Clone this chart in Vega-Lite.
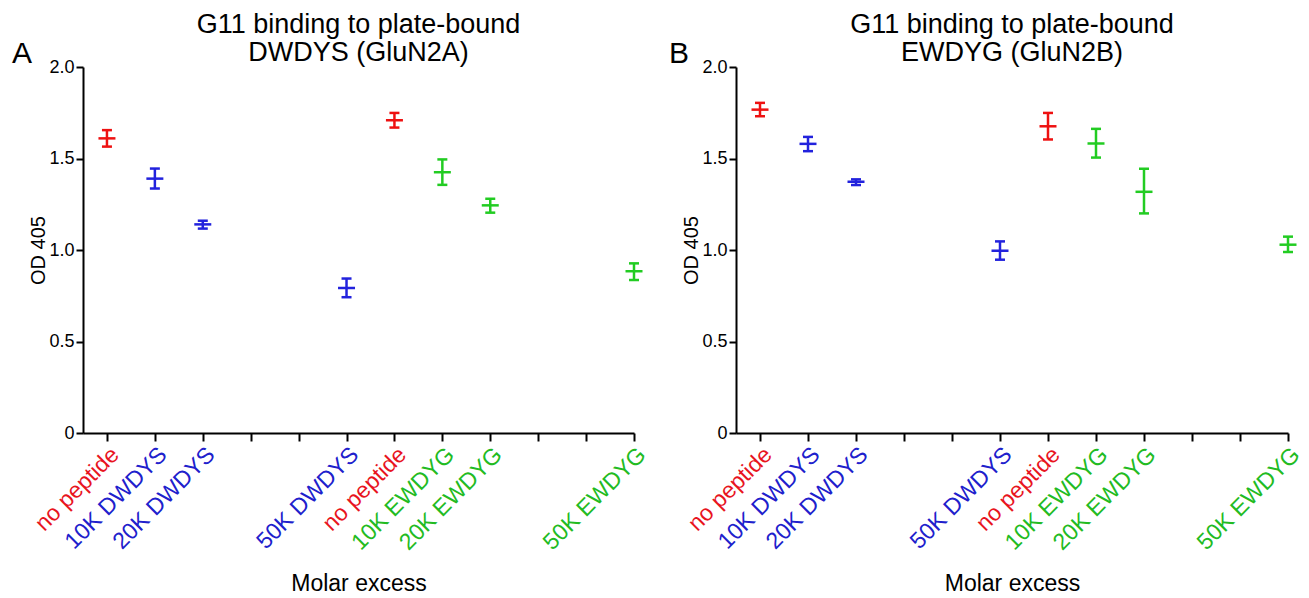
{
  "$schema": "https://vega.github.io/schema/vega-lite/v6.json",
  "padding": {"left": 12, "top": 11, "right": 5, "bottom": 0},
  "spacing": 18,
  "background": "white",
  "config": {
    "font": "Liberation Sans",
    "view": {"stroke": null},
    "axis": {
      "grid": false,
      "domainColor": "black",
      "domainWidth": 2,
      "tickColor": "black",
      "tickWidth": 2,
      "labelColor": "black",
      "titleColor": "black",
      "titleFontWeight": "normal",
      "labelFont": "Liberation Sans",
      "titleFont": "Liberation Sans"
    },
    "tick": {"orient": "horizontal", "thickness": 2.5, "opacity": 1},
    "rule": {"strokeWidth": 2.5},
    "title": {"font": "Liberation Sans", "fontWeight": "normal", "color": "black", "fontSize": 27, "lineHeight": 28, "anchor": "middle", "frame": "group", "offset": -28}
  },
  "datasets": {
    "pts": [
      {"panel": "A", "pos": 1, "group": "none", "mean": 1.61, "lo": 1.565, "hi": 1.655},
      {"panel": "A", "pos": 2, "group": "DWDYS", "mean": 1.39, "lo": 1.336, "hi": 1.445},
      {"panel": "A", "pos": 3, "group": "DWDYS", "mean": 1.14, "lo": 1.117, "hi": 1.16},
      {"panel": "A", "pos": 6, "group": "DWDYS", "mean": 0.793, "lo": 0.742, "hi": 0.844},
      {"panel": "A", "pos": 7, "group": "none", "mean": 1.709, "lo": 1.669, "hi": 1.749},
      {"panel": "A", "pos": 8, "group": "EWDYG", "mean": 1.425, "lo": 1.356, "hi": 1.495},
      {"panel": "A", "pos": 9, "group": "EWDYG", "mean": 1.244, "lo": 1.204, "hi": 1.28},
      {"panel": "A", "pos": 12, "group": "EWDYG", "mean": 0.884, "lo": 0.836, "hi": 0.927},
      {"panel": "B", "pos": 1, "group": "none", "mean": 1.767, "lo": 1.731, "hi": 1.804},
      {"panel": "B", "pos": 2, "group": "DWDYS", "mean": 1.58, "lo": 1.54, "hi": 1.618},
      {"panel": "B", "pos": 3, "group": "DWDYS", "mean": 1.373, "lo": 1.355, "hi": 1.386},
      {"panel": "B", "pos": 6, "group": "DWDYS", "mean": 0.996, "lo": 0.947, "hi": 1.047},
      {"panel": "B", "pos": 7, "group": "none", "mean": 1.676, "lo": 1.604, "hi": 1.749},
      {"panel": "B", "pos": 8, "group": "EWDYG", "mean": 1.582, "lo": 1.505, "hi": 1.662},
      {"panel": "B", "pos": 9, "group": "EWDYG", "mean": 1.318, "lo": 1.2, "hi": 1.444},
      {"panel": "B", "pos": 12, "group": "EWDYG", "mean": 1.029, "lo": 0.989, "hi": 1.073}
    ]
  },
  "hconcat": [
    {
      "width": 551,
      "height": 366,
      "title": {"text": ["G11 binding to plate-bound", "DWDYS (GluN2A)"]},
      "layer": [
        {
          "data": {"name": "pts"},
          "transform": [{"filter": "datum.panel == 'A'"}],
          "mark": {"type": "rule"},
          "encoding": {
            "x": {
              "field": "pos", "type": "quantitative",
              "scale": {"domain": [0.5, 12], "nice": false, "zero": false},
              "axis": {
                "title": "Molar excess",
                "values": [1, 2, 3, 4, 5, 6, 7, 8, 9, 10, 11, 12],
                "titleFontSize": 23, "titlePadding": 18,
                "tickSize": 8, "labelAngle": -45, "labelAlign": "right", "labelBaseline": "top",
                "labelFontSize": 23, "labelPadding": 2, "labelOverlap": false, "labelBound": false,
                "labelExpr": "datum.value == 1 || datum.value == 7 ? 'no peptide' : datum.value == 2 ? '10K DWDYS' : datum.value == 3 ? '20K DWDYS' : datum.value == 6 ? '50K DWDYS' : datum.value == 8 ? '10K EWDYG' : datum.value == 9 ? '20K EWDYG' : datum.value == 12 ? '50K EWDYG' : ''",
                "labelColor": {"condition": [{"test": "datum.value == 1 || datum.value == 7", "value": "#e8141e"}, {"test": "datum.value <= 6", "value": "#2020cc"}], "value": "#22bb22"}
              }
            },
            "y": {"field": "lo", "type": "quantitative", "title": "OD 405",
              "scale": {"domain": [0, 2], "nice": false},
              "axis": {"values": [0, 0.5, 1, 1.5, 2], "tickSize": 7, "labelFontSize": 18, "titleFontSize": 20, "titlePadding": 0, "labelPadding": 2,
                "labelExpr": "datum.value == 0 ? '0' : format(datum.value, '.1f')"}},
            "y2": {"field": "hi"},
            "color": {"field": "group", "type": "nominal", "scale": {"domain": ["none", "DWDYS", "EWDYG"], "range": ["#ee1111", "#2222dd", "#22cc22"]}, "legend": null}
          }
        },
        {
          "data": {"name": "pts"},
          "transform": [{"filter": "datum.panel == 'A'"}],
          "mark": {"type": "tick", "size": 10},
          "encoding": {
            "x": {"field": "pos", "type": "quantitative"},
            "y": {"field": "lo", "type": "quantitative", "title": "OD 405"},
            "color": {"field": "group", "type": "nominal", "legend": null}
          }
        },
        {
          "data": {"name": "pts"},
          "transform": [{"filter": "datum.panel == 'A'"}],
          "mark": {"type": "tick", "size": 10},
          "encoding": {
            "x": {"field": "pos", "type": "quantitative"},
            "y": {"field": "hi", "type": "quantitative", "title": "OD 405"},
            "color": {"field": "group", "type": "nominal", "legend": null}
          }
        },
        {
          "data": {"name": "pts"},
          "transform": [{"filter": "datum.panel == 'A'"}],
          "mark": {"type": "tick", "size": 17},
          "encoding": {
            "x": {"field": "pos", "type": "quantitative"},
            "y": {"field": "mean", "type": "quantitative", "title": "OD 405"},
            "color": {"field": "group", "type": "nominal", "legend": null}
          }
        },
        {
          "data": {"values": [{"letter": "A"}]},
          "mark": {"type": "text", "fontSize": 30, "align": "left", "baseline": "alphabetic", "dx": -71, "dy": -4, "color": "black"},
          "encoding": {
            "x": {"datum": 0.5, "type": "quantitative"},
            "y": {"datum": 2, "type": "quantitative"},
            "text": {"field": "letter", "type": "nominal"}
          }
        }
      ]
    },
    {
      "width": 552,
      "height": 366,
      "title": {"text": ["G11 binding to plate-bound", "EWDYG (GluN2B)"]},
      "layer": [
        {
          "data": {"name": "pts"},
          "transform": [{"filter": "datum.panel == 'B'"}],
          "mark": {"type": "rule"},
          "encoding": {
            "x": {
              "field": "pos", "type": "quantitative",
              "scale": {"domain": [0.5, 12], "nice": false, "zero": false},
              "axis": {
                "title": "Molar excess",
                "values": [1, 2, 3, 4, 5, 6, 7, 8, 9, 10, 11, 12],
                "titleFontSize": 23, "titlePadding": 18,
                "tickSize": 8, "labelAngle": -45, "labelAlign": "right", "labelBaseline": "top",
                "labelFontSize": 23, "labelPadding": 2, "labelOverlap": false, "labelBound": false,
                "labelExpr": "datum.value == 1 || datum.value == 7 ? 'no peptide' : datum.value == 2 ? '10K DWDYS' : datum.value == 3 ? '20K DWDYS' : datum.value == 6 ? '50K DWDYS' : datum.value == 8 ? '10K EWDYG' : datum.value == 9 ? '20K EWDYG' : datum.value == 12 ? '50K EWDYG' : ''",
                "labelColor": {"condition": [{"test": "datum.value == 1 || datum.value == 7", "value": "#e8141e"}, {"test": "datum.value <= 6", "value": "#2020cc"}], "value": "#22bb22"}
              }
            },
            "y": {"field": "lo", "type": "quantitative", "title": "OD 405",
              "scale": {"domain": [0, 2], "nice": false},
              "axis": {"values": [0, 0.5, 1, 1.5, 2], "tickSize": 7, "labelFontSize": 18, "titleFontSize": 20, "titlePadding": 0, "labelPadding": 2,
                "labelExpr": "datum.value == 0 ? '0' : format(datum.value, '.1f')"}},
            "y2": {"field": "hi"},
            "color": {"field": "group", "type": "nominal", "scale": {"domain": ["none", "DWDYS", "EWDYG"], "range": ["#ee1111", "#2222dd", "#22cc22"]}, "legend": null}
          }
        },
        {
          "data": {"name": "pts"},
          "transform": [{"filter": "datum.panel == 'B'"}],
          "mark": {"type": "tick", "size": 10},
          "encoding": {
            "x": {"field": "pos", "type": "quantitative"},
            "y": {"field": "lo", "type": "quantitative", "title": "OD 405"},
            "color": {"field": "group", "type": "nominal", "legend": null}
          }
        },
        {
          "data": {"name": "pts"},
          "transform": [{"filter": "datum.panel == 'B'"}],
          "mark": {"type": "tick", "size": 10},
          "encoding": {
            "x": {"field": "pos", "type": "quantitative"},
            "y": {"field": "hi", "type": "quantitative", "title": "OD 405"},
            "color": {"field": "group", "type": "nominal", "legend": null}
          }
        },
        {
          "data": {"name": "pts"},
          "transform": [{"filter": "datum.panel == 'B'"}],
          "mark": {"type": "tick", "size": 17},
          "encoding": {
            "x": {"field": "pos", "type": "quantitative"},
            "y": {"field": "mean", "type": "quantitative", "title": "OD 405"},
            "color": {"field": "group", "type": "nominal", "legend": null}
          }
        },
        {
          "data": {"values": [{"letter": "B"}]},
          "mark": {"type": "text", "fontSize": 30, "align": "left", "baseline": "alphabetic", "dx": -67, "dy": -4, "color": "black"},
          "encoding": {
            "x": {"datum": 0.5, "type": "quantitative"},
            "y": {"datum": 2, "type": "quantitative"},
            "text": {"field": "letter", "type": "nominal"}
          }
        }
      ]
    }
  ]
}
